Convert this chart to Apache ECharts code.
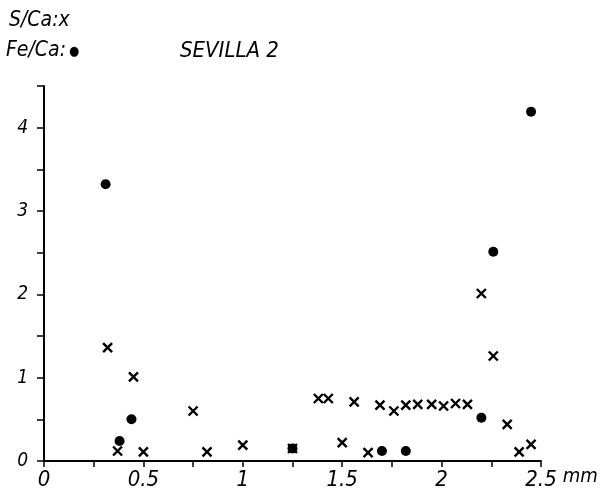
<!DOCTYPE html>
<html>
<head>
<meta charset="utf-8">
<script src="https://cdn.jsdelivr.net/npm/echarts@6/dist/echarts.min.js"></script>
<style>
html,body{margin:0;padding:0;background:#fff;}
#echart{width:601px;height:494px;}
</style>
</head>
<body>
<div id="echart"></div>
<script>
// S/Ca : crosses
var sDepth=[0.32,0.37,0.45,0.50,0.75,0.82,1.00,1.25,1.38,1.43,1.50,1.56,1.63,1.69,1.76,1.82,1.88,1.95,2.01,2.07,2.13,2.20,2.26,2.33,2.39,2.45];
var sRatio=[1.36,0.12,1.01,0.11,0.60,0.11,0.19,0.15,0.75,0.75,0.22,0.71,0.10,0.67,0.60,0.67,0.68,0.68,0.66,0.69,0.68,2.01,1.26,0.44,0.11,0.20];
// Fe/Ca : dots
var feDepth=[0.31,0.38,0.44,1.25,1.70,1.82,2.20,2.26,2.45];
var feRatio=[3.32,0.24,0.50,0.15,0.12,0.12,0.52,2.51,4.19];
var xTicks=[0,0.5,1,1.5,2,2.5];
var yTicks=[0,1,2,3,4];

function pairs(xs,ys){
	var out=[];
	for(var i=0;i<xs.length;i++){
		out.push([xs[i],ys[i]]);
	}
	return out;
}

var font='DejaVu Sans Condensed, DejaVu Sans';
var chart=echarts.init(document.getElementById('echart'));

var option={
	animation:false,
	backgroundColor:'#fff',
	title:[
		{text:'S/Ca:x',left:9,top:10,padding:0,textStyle:{fontFamily:font,fontStyle:'italic',fontWeight:'normal',fontSize:21,color:'#000'}},
		{
			text:'{a|Fe/Ca:}{b|●}',left:6,top:40,padding:0,
			textStyle:{
				fontWeight:'normal',
				rich:{
					a:{fontFamily:font,fontStyle:'italic',fontWeight:'normal',fontSize:21,color:'#000'},
					b:{fontFamily:font,fontWeight:'normal',fontSize:13,color:'#000',padding:[2,0,0,3]}
				}
			}
		},
		{text:'SEVILLA 2',left:180,top:40,padding:0,textStyle:{fontFamily:font,fontStyle:'italic',fontWeight:'normal',fontSize:22,color:'#000'}}
	],
	grid:{left:44,right:60,top:86,bottom:33},
	xAxis:{
		type:'value',
		min:0,
		max:2.5,
		interval:0.5,
		name:'mm',
		nameLocation:'end',
		nameGap:14,
		nameTextStyle:{fontFamily:font,fontStyle:'italic',fontSize:20,color:'#000',verticalAlign:'top',padding:[6,0,0,0]},
		axisLine:{lineStyle:{color:'#000',width:2}},
		axisTick:{length:6,lineStyle:{color:'#000',width:1.5}},
		minorTick:{show:true,splitNumber:2,length:6,lineStyle:{color:'#000',width:1.5}},
		splitLine:{show:false},
		axisLabel:{
			fontFamily:font,fontStyle:'italic',fontSize:22,color:'#000',margin:8,
			formatter:function(v){
				return xTicks.indexOf(v)>=0?String(v):'';
			}
		}
	},
	yAxis:{
		type:'value',
		min:0,
		max:4.5,
		interval:1,
		axisLine:{show:true,lineStyle:{color:'#000',width:2}},
		axisTick:{show:true,length:7,lineStyle:{color:'#000',width:1.5}},
		minorTick:{show:true,splitNumber:2,length:7,lineStyle:{color:'#000',width:1.5}},
		splitLine:{show:false},
		axisLabel:{
			fontFamily:font,fontStyle:'italic',fontSize:19,color:'#000',margin:16,
			showMaxLabel:false,
			formatter:function(v){
				return yTicks.indexOf(v)>=0?String(v):'';
			}
		}
	},
	series:[
		{
			name:'S/Ca',
			type:'scatter',
			data:pairs(sDepth,sRatio),
			symbol:'path://M0,0L10,10M10,0L0,10',
			symbolSize:9,
			itemStyle:{color:'none',borderColor:'#000',borderWidth:2.4,opacity:1}
		},
		{
			name:'Fe/Ca',
			type:'scatter',
			data:pairs(feDepth,feRatio),
			symbol:'circle',
			symbolSize:10,
			itemStyle:{color:'#000',opacity:1}
		}
	]
};
chart.setOption(option);
</script>
</body>
</html>
